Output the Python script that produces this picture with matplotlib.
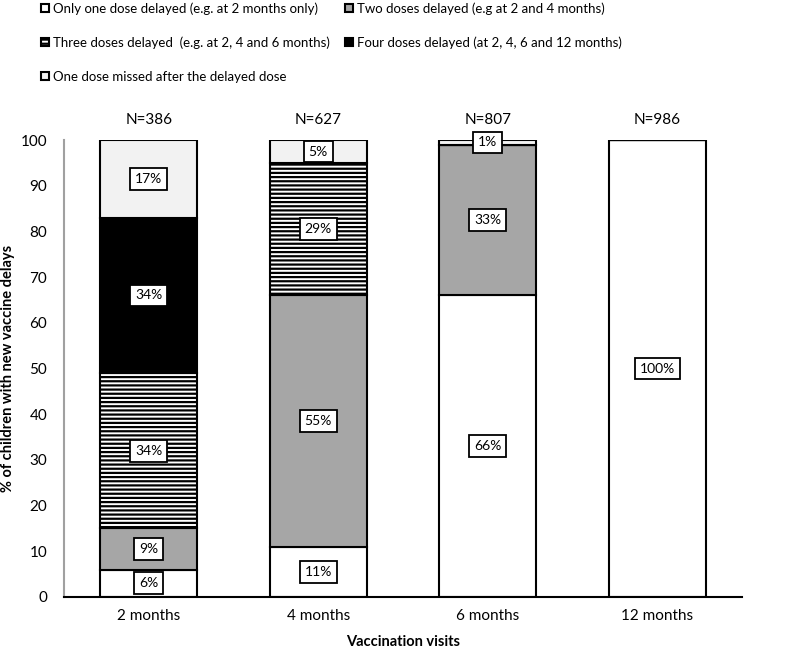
import matplotlib.pyplot as plt
import numpy as np

# data (% of children)
visits = ['2 months', '4 months', '6 months', '12 months']
n_labels = ['N=386', 'N=627', 'N=807', 'N=986']
one_dose = [6, 11, 66, 100]
two_doses = [9, 55, 33, 0]
three_doses = [34, 29, 0, 0]
four_doses = [34, 0, 0, 0]
missed = [17, 5, 1, 0]

series_names = ['Only one dose delayed (e.g. at 2 months only)',
                'Two doses delayed (e.g at 2 and 4 months)',
                'Three doses delayed  (e.g. at 2, 4 and 6 months)',
                'Four doses delayed (at 2, 4, 6 and 12 months)',
                'One dose missed after the delayed dose']

plt.rcParams['font.family'] = ['Lato', 'DejaVu Sans']
plt.rcParams['hatch.linewidth'] = 1.6

fig = plt.figure(figsize=(7.87, 6.52), dpi=100)
ax = fig.add_axes([0.0813, 0.0844, 0.8617, 0.7006])

x = np.arange(len(visits))
width = 0.573
all_series = [one_dose, two_doses, three_doses, four_doses, missed]
colors = ['white', '#a6a6a6', 'white', 'black', '#f2f2f2']
hatches = [None, None, '----', None, None]

bottom = np.zeros(len(visits))
handles = []
for vals, col, h, name in zip(all_series, colors, hatches, series_names):
    vals = np.array(vals, dtype=float)
    bars = ax.bar(x, vals, width, bottom=bottom, color=col, edgecolor='black',
                  linewidth=1.5, hatch=h, label=name)
    handles.append(bars)
    # value labels in white boxes
    for xi, v, b in zip(x, vals, bottom):
        if v > 0:
            ax.text(xi, b + v / 2, f'{int(v)}%', ha='center', va='center', fontsize=10,
                    bbox=dict(boxstyle='square,pad=0.35', fc='white', ec='black', lw=1.3))
    bottom += vals

for xi, t in zip(x, n_labels):
    ax.text(xi, 104.5, t, ha='center', va='center', fontsize=11)

ax.set_xlim(-0.5, 3.5)
ax.set_ylim(0, 100)
ax.set_yticks(range(0, 101, 10))
ax.set_xticks(x)
ax.set_xticklabels(visits)
ax.tick_params(axis='both', length=0, labelsize=11)
ax.tick_params(axis='y', pad=12)
ax.tick_params(axis='x', pad=9)
for s in ['top', 'right']:
    ax.spines[s].set_visible(False)
ax.spines['left'].set_color('#a0a0a0')
ax.spines['left'].set_linewidth(1.5)
ax.spines['bottom'].set_color('black')
ax.spines['bottom'].set_linewidth(1.5)

ax.set_xlabel('Vaccination visits', fontweight='bold', fontsize=10.5, labelpad=8)
ax.set_ylabel('% of children with new vaccine delays', fontweight='bold', fontsize=10.5,
              labelpad=4)

# legend fills column by column: put items so rows read one/two, three/four, missed
order = [0, 2, 4, 1, 3]
fig.legend([handles[i] for i in order], [series_names[i] for i in order],
           loc='upper left', bbox_to_anchor=(0.04, 1.011), ncol=2, frameon=False,
           fontsize=9.5, handlelength=0.6, handleheight=0.6, handletextpad=0.3,
           columnspacing=1.2, labelspacing=1.65, borderpad=0.2)

fig.savefig('out.png', dpi=100)
